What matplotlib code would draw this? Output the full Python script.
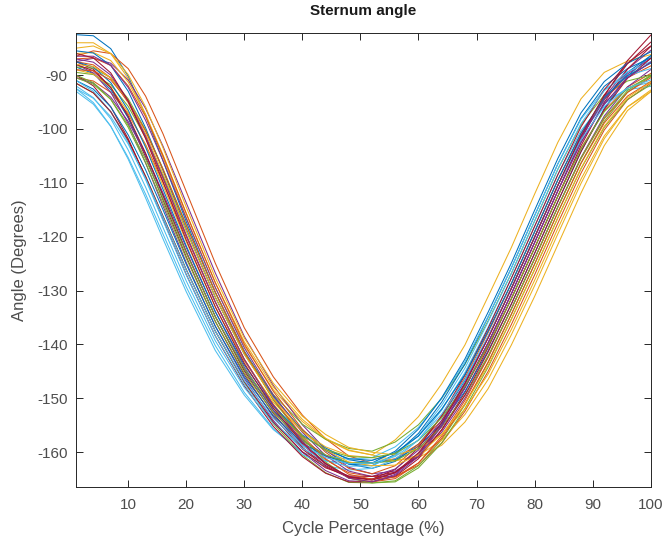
import matplotlib
matplotlib.use("Agg")
import matplotlib.pyplot as plt

cycle_pct = [1, 4, 7, 10, 13, 16, 20, 25, 30, 35, 40, 44, 48, 52, 56, 60, 64, 68, 72, 76, 80, 84, 88, 92, 96, 100]

# sternum angle (degrees), one list per trial
trial_01 = [-82.5, -82.7, -85.1, -90.2, -97.5, -105.9, -117.2, -130.3, -141.2, -149.6, -156, -159.7, -162.2, -163, -161.7, -158.5, -153.4, -146.7, -138.6, -129.6, -120.1, -110.5, -101.5, -94.4, -89.5, -86.4]
trial_02 = [-86.5, -85.5, -86, -88.8, -93.9, -100.9, -111.6, -124.9, -136.9, -146, -153.1, -157.5, -160.7, -162, -161.2, -158.5, -154.1, -148, -140.3, -131.5, -122.1, -112.5, -103.6, -96.6, -92.2, -89.7]
trial_03 = [-84, -84, -86, -90.6, -97.3, -105.3, -116.4, -129.4, -140.2, -148.4, -154.3, -157.6, -159.7, -160.5, -157.7, -153.4, -147.3, -140.1, -131.1, -122, -112.1, -102.5, -94.4, -89.5, -87.4, -86.2]
trial_04 = [-87.5, -86.9, -87.8, -90.9, -96.2, -103.2, -113.7, -126.7, -138.5, -147.6, -154.9, -159.5, -162.8, -164, -163.5, -160.8, -156.3, -150, -142.3, -133.4, -124.1, -114.5, -105.3, -97.6, -92.2, -89]
trial_05 = [-89.5, -89.9, -91.8, -95.8, -101.6, -108.7, -118.9, -131.2, -141.6, -149.3, -154.8, -157.6, -159.3, -159.8, -158.1, -154.9, -150, -143.7, -135.6, -126.8, -117.1, -107.5, -99.2, -93.7, -91.1, -90]
trial_06 = [-92.5, -95.1, -99.5, -105.6, -112.8, -120.4, -130.2, -141.1, -149.4, -155.8, -160, -161.6, -162, -161.5, -160.1, -157, -152, -145.6, -137.5, -128.7, -119.1, -109.5, -101.1, -95.3, -92.4, -91.3]
trial_07 = [-87.5, -88.9, -92.3, -97.9, -105.2, -113.2, -123.7, -135.7, -145.6, -153.4, -159.4, -162.7, -164.7, -165, -163.8, -160.4, -155, -148, -139.7, -130.6, -121.1, -111.5, -102, -93.9, -87.3, -82.6]
trial_08 = [-88.5, -89.7, -92.7, -97.9, -104.7, -112.4, -122.8, -134.8, -144.6, -152.2, -157.7, -160.6, -162.2, -162.5, -160.4, -156.5, -150.7, -143.6, -134.9, -125.8, -116.1, -106.5, -98, -92.1, -88.8, -86.8]
trial_09 = [-90.5, -91.1, -93.2, -97.2, -102.9, -109.9, -120, -132.1, -142.7, -151.1, -157.5, -161.4, -163.8, -164.5, -164.5, -162.4, -158.3, -152.4, -145, -136.3, -127.1, -117.5, -108.2, -100.2, -94.6, -91.5]
trial_10 = [-86, -85.8, -87.3, -91.3, -97.3, -104.8, -115.6, -128.5, -139.5, -147.9, -153.9, -157.4, -159.6, -160.5, -161.5, -161, -158.7, -154.4, -148.2, -140.1, -131.1, -121.5, -111.9, -103.1, -96.6, -93.1]
trial_11 = [-88, -89.6, -93.2, -99, -106.3, -114.3, -124.8, -136.6, -146.3, -154.1, -160, -163.4, -165.3, -165.5, -164.1, -160.4, -154.6, -147.4, -138.8, -129.6, -120.1, -110.5, -101.4, -94.1, -88.9, -85.4]
trial_12 = [-91.5, -93.3, -96.8, -102.1, -108.8, -116.2, -126.1, -137.5, -147, -154.7, -160.5, -163.8, -165.6, -165.7, -165.3, -162.5, -157.7, -151.2, -143.3, -134.4, -125.1, -115.5, -106.3, -98.6, -93.2, -90.2]
trial_13 = [-93, -95.4, -99.5, -105.3, -112.1, -119.5, -129.3, -140.2, -148.9, -155.6, -160.4, -162.5, -163.3, -163, -161.3, -157.7, -152.2, -145.2, -136.8, -127.7, -118.1, -108.5, -100.3, -94.9, -92.7, -92.1]
trial_14 = [-90, -92, -95.9, -101.8, -109, -116.8, -127, -138.4, -147.7, -155.2, -160.8, -163.9, -165.5, -165.5, -164.5, -161.2, -155.8, -148.9, -140.6, -131.5, -122.1, -112.5, -103.1, -95.1, -88.9, -84.7]
trial_15 = [-85.5, -85.9, -88.2, -93, -99.8, -107.7, -118.5, -131.2, -141.8, -149.9, -155.9, -159.2, -161.4, -162, -161.4, -158.9, -154.7, -148.7, -141.2, -132.5, -123.1, -113.5, -104.2, -96.2, -90.2, -86.4]
trial_16 = [-87, -86.8, -88.2, -92, -97.7, -105, -115.7, -128.5, -139.9, -148.7, -155.7, -160, -163, -164, -162.5, -158.8, -153.3, -146.2, -137.8, -128.7, -119.1, -109.5, -100.8, -94.4, -90.5, -88.3]
trial_17 = [-89, -89.8, -92.3, -96.9, -103.1, -110.5, -120.9, -133, -143.1, -150.7, -156.2, -159, -160.6, -161, -161.6, -160.6, -157.8, -153, -146.5, -138.2, -129.1, -119.5, -110.1, -101.8, -95.9, -92.8]
trial_18 = [-90.5, -91.5, -94.1, -98.6, -104.7, -111.9, -122, -133.9, -144.2, -152.3, -158.6, -162.2, -164.5, -165, -163.8, -160.4, -155, -148, -139.7, -130.6, -121.1, -111.5, -102.5, -95.4, -90.5, -87.6]
trial_19 = [-88.5, -88.7, -90.5, -94.4, -100.2, -107.4, -117.8, -130.3, -141.4, -150.3, -157.3, -161.8, -164.8, -165.7, -165.5, -162.9, -158.3, -151.9, -144.2, -135.3, -126.1, -116.5, -107.4, -99.7, -94.5, -91.8]
trial_20 = [-92, -94.2, -98.1, -103.9, -110.8, -118.3, -128.2, -139.3, -148, -154.6, -158.9, -160.7, -161.3, -161, -159, -155.4, -150, -143.2, -134.8, -125.8, -116.1, -106.5, -98.2, -92.7, -90.1, -88.8]
trial_21 = [-88, -89.2, -92.3, -97.6, -104.5, -112.3, -122.8, -134.8, -144.9, -152.8, -159.1, -162.5, -164.6, -165, -163.2, -159.2, -153.2, -145.7, -137, -127.7, -118.1, -108.5, -99.6, -92.7, -87.8, -84.6]
trial_22 = [-91, -92.6, -95.9, -101.1, -107.6, -115, -125.1, -136.6, -146, -153.2, -158.3, -160.7, -162, -162, -159.8, -155.7, -149.9, -142.7, -134, -124.9, -115.1, -105.5, -97, -91.2, -87.8, -85.7]
trial_23 = [-87.5, -88.1, -90.5, -95.1, -101.6, -109.2, -119.7, -132.1, -142.8, -151.3, -158, -162.1, -164.8, -165.5, -164.9, -162, -157, -150.4, -142.4, -133.4, -124.1, -114.5, -105.5, -98.1, -93.2, -90.5]
trial_24 = [-85, -84.6, -86, -89.9, -95.9, -103.5, -114.5, -127.6, -138.8, -147.2, -153.3, -156.7, -159.1, -160, -160.5, -159.4, -156.7, -152, -145.5, -137.2, -128.1, -118.5, -109.3, -101.3, -95.9, -93.1]
trial_25 = [-86.5, -86.5, -88.2, -92.3, -98.4, -105.9, -116.6, -129.4, -140.6, -149.4, -156.3, -160.6, -163.5, -164.5, -163.1, -159.6, -154.1, -147.1, -138.7, -129.6, -120.1, -110.5, -101.6, -94.6, -89.8, -86.9]
trial_26 = [-90, -91.4, -94.5, -99.7, -106.3, -113.8, -124, -135.7, -145.3, -152.6, -157.9, -160.5, -161.9, -162, -161.6, -159.3, -155.3, -149.5, -142.1, -133.4, -124.1, -114.5, -105.4, -97.9, -92.9, -90]
trial_27 = [-91, -93, -96.8, -102.5, -109.4, -117, -127.1, -138.4, -147.4, -154.4, -159.3, -161.6, -162.6, -162.5, -160.6, -156.9, -151.3, -144.4, -135.8, -126.8, -117.1, -107.5, -99, -92.9, -89.4, -87.5]
trial_28 = [-91.5, -93.3, -96.8, -102.1, -108.8, -116.2, -126.1, -137.5, -146.9, -154.4, -159.9, -162.9, -164.4, -164.5, -163.7, -160.8, -155.9, -149.4, -141.4, -132.5, -123.1, -113.5, -104.2, -96.4, -90.6, -86.9]
trial_29 = [-87.5, -88.5, -91.4, -96.5, -103.4, -111.2, -121.7, -133.9, -143.8, -151.4, -156.8, -159.6, -161.2, -161.5, -160.1, -157, -152, -145.6, -137.5, -128.7, -119.1, -109.5, -100.8, -94.2, -90.1, -87.8]
trial_30 = [-89, -89.2, -90.9, -94.8, -100.4, -107.5, -117.9, -130.3, -141.4, -150.1, -157, -161.2, -164.1, -165, -164.6, -162, -157.4, -151, -143.3, -134.4, -125.1, -115.5, -106.4, -98.9, -93.9, -91.2]
trial_31 = [-88, -88.4, -90.5, -94.8, -100.9, -108.3, -118.8, -131.2, -141.8, -150, -156.1, -159.6, -161.8, -162.5, -162.4, -160.5, -156.7, -151.1, -143.9, -135.3, -126.1, -116.5, -107.3, -99.5, -94.2, -91.3]
trial_32 = [-87, -87.6, -90, -94.8, -101.3, -109, -119.7, -132.1, -142.8, -151.3, -158, -162.1, -164.8, -165.5, -164.3, -160.8, -155.2, -148.1, -139.7, -130.6, -121.1, -111.5, -102.5, -95.4, -90.5, -87.6]
trial_33 = [-90.5, -91.7, -94.5, -99.3, -105.6, -112.9, -123, -134.8, -144.5, -151.8, -157, -159.5, -160.8, -161, -160.2, -157.8, -153.6, -147.7, -140.2, -131.5, -122.1, -112.5, -103.7, -96.8, -92.5, -90.2]
trial_34 = [-92.5, -94.3, -97.7, -102.8, -109.2, -116.4, -126.2, -137.5, -146.7, -153.7, -158.7, -161, -162.1, -162, -160.8, -157.7, -152.9, -146.5, -138.5, -129.6, -120.1, -110.5, -102, -95.8, -92.4, -90.9]
trial_35 = [-86, -86.8, -89.6, -94.8, -101.8, -109.8, -120.6, -133, -143.5, -151.8, -158.3, -162.1, -164.6, -165.2, -163.8, -160.1, -154.5, -147.3, -138.8, -129.6, -120.1, -110.5, -101.3, -93.7, -87.9, -83.9]

trials = [trial_01, trial_02, trial_03, trial_04, trial_05, trial_06, trial_07,
          trial_08, trial_09, trial_10, trial_11, trial_12, trial_13, trial_14,
          trial_15, trial_16, trial_17, trial_18, trial_19, trial_20, trial_21,
          trial_22, trial_23, trial_24, trial_25, trial_26, trial_27, trial_28,
          trial_29, trial_30, trial_31, trial_32, trial_33, trial_34, trial_35]

x_ticks = [10, 20, 30, 40, 50, 60, 70, 80, 90, 100]
y_ticks = [-160, -150, -140, -130, -120, -110, -100, -90]

# MATLAB default line colours
matlab_colors = ["#0072BD", "#D95319", "#EDB120", "#7E2F8E", "#77AC30", "#4DBEEE", "#A2142F"]

plt.rcParams['font.family'] = ['Liberation Sans', 'DejaVu Sans']
plt.rcParams['axes.unicode_minus'] = False

fig = plt.figure(figsize=(6.66, 5.42), dpi=100)
ax = fig.add_axes([0.114, 0.101, 0.863, 0.838])

for i, trial in enumerate(trials):
    ax.plot(cycle_pct, trial, color=matlab_colors[i % len(matlab_colors)], linewidth=0.75)

ax.set_xlim(1, 100)
ax.set_ylim(-166.5, -82.2)
ax.set_xticks(x_ticks)
ax.set_yticks(y_ticks)

# box on, ticks pointing in like MATLAB
ax.tick_params(direction="in", top=True, right=True, length=5, width=0.7, pad=6,
               colors="#262626", labelsize=11, labelcolor="#4d4d4d")
ax.tick_params(axis="x", pad=8)
for spine in ax.spines.values():
    spine.set_color("#262626")
    spine.set_linewidth(0.7)

ax.set_title("Sternum angle", fontsize=11, fontweight="bold", color="#1a1a1a", pad=13)
ax.set_xlabel("Cycle Percentage (%)", fontsize=12, color="#4d4d4d", labelpad=6)
ax.set_ylabel("Angle (Degrees)", fontsize=12, color="#4d4d4d", labelpad=7)

plt.savefig("out.png", dpi=100)
